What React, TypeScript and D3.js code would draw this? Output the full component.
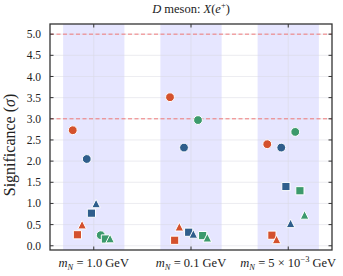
import React, { useRef, useEffect } from 'react';
import * as d3 from 'd3';

// categories (mass points) and their axis labels
const categories = ['1.0', '0.1', '5e-3'];

// y-axis ticks
const yTicks = [0, 0.5, 1, 1.5, 2, 2.5, 3, 3.5, 4, 4.5, 5];
const thresholds = [3, 5];

// significance per series, one value per category
const redCircle = [2.73, 3.51, 2.40];
const redSquare = [0.26, 0.13, 0.25];
const redTriangle = [0.50, 0.45, 0.15];
const blueCircle = [2.05, 2.32, 2.32];
const blueSquare = [0.77, 0.32, 1.40];
const blueTriangle = [1.00, 0.28, 0.53];
const greenCircle = [0.25, 2.97, 2.69];
const greenSquare = [0.16, 0.24, 1.30];
const greenTriangle = [0.17, 0.19, 0.73];

const RED = '#d4512d';
const BLUE = '#2f5e8c';
const GREEN = '#3c9a6c';

type Shape = 'circle' | 'square' | 'triangle';

const series: { values: number[]; color: string; shape: Shape }[] = [
  { values: redCircle, color: RED, shape: 'circle' },
  { values: redSquare, color: RED, shape: 'square' },
  { values: redTriangle, color: RED, shape: 'triangle' },
  { values: blueCircle, color: BLUE, shape: 'circle' },
  { values: blueSquare, color: BLUE, shape: 'square' },
  { values: blueTriangle, color: BLUE, shape: 'triangle' },
  { values: greenCircle, color: GREEN, shape: 'circle' },
  { values: greenSquare, color: GREEN, shape: 'square' },
  { values: greenTriangle, color: GREEN, shape: 'triangle' },
];

const WIDTH = 343;
const HEIGHT = 276;
const FONT = '"Liberation Serif", "DejaVu Serif", serif';

const shapePath = (shape: Shape) => {
  if (shape === 'circle') {
    return d3.symbol().type(d3.symbolCircle).size(Math.PI * 4.4 * 4.4)();
  }
  if (shape === 'square') {
    const s = 4.1;
    return `M${-s},${-s}L${s},${-s}L${s},${s}L${-s},${s}Z`;
  }
  const t = 4.3;
  return `M0,${-t}L${t},${t}L${-t},${t}Z`;
};

const App: React.FC = () => {
  const svgRef = useRef<SVGSVGElement>(null);

  useEffect(() => {
    if (!svgRef.current) return;
    const svg = d3.select(svgRef.current);
    svg.selectAll('*').remove();

    const margin = { top: 24, right: 11, bottom: 26, left: 50 };
    const x0 = margin.left;
    const x1 = WIDTH - margin.right;
    const y0 = margin.top;
    const y1 = HEIGHT - margin.bottom;

    const x = d3.scaleLinear().domain([-0.45, 2.45]).range([x0, x1]);
    const y = d3.scaleLinear().domain([-0.1, 5.24]).range([y1, y0]);

    // shaded bands behind each mass point
    svg.append('g')
      .selectAll('rect')
      .data(categories)
      .enter()
      .append('rect')
      .attr('x', (_, i) => x(i - 0.315))
      .attr('y', y0)
      .attr('width', x(0.315) - x(-0.315))
      .attr('height', y1 - y0)
      .attr('fill', '#e6e6ff');

    // grid
    const grid = svg.append('g').attr('stroke', '#d8d8e0').attr('stroke-width', 0.6).attr('opacity', 0.8);
    grid.selectAll('.hg')
      .data(yTicks)
      .enter()
      .append('line')
      .attr('x1', x0).attr('x2', x1)
      .attr('y1', d => y(d)).attr('y2', d => y(d));
    grid.selectAll('.vg')
      .data(categories)
      .enter()
      .append('line')
      .attr('x1', (_, i) => x(i)).attr('x2', (_, i) => x(i))
      .attr('y1', y0).attr('y2', y1);

    // 3 and 5 sigma reference lines
    svg.append('g')
      .selectAll('line')
      .data(thresholds)
      .enter()
      .append('line')
      .attr('x1', x0).attr('x2', x1)
      .attr('y1', d => y(d)).attr('y2', d => y(d))
      .attr('stroke', '#f07a7a')
      .attr('stroke-width', 1)
      .attr('stroke-dasharray', '4,2.5');

    // markers
    const points = series.flatMap((s, si) =>
      s.values.map((v, ci) => ({ x: ci + (si - 4.5) * 0.048, y: v, color: s.color, shape: s.shape }))
    );
    svg.append('g')
      .selectAll('path')
      .data(points)
      .enter()
      .append('path')
      .attr('transform', d => `translate(${x(d.x)},${y(d.y)})`)
      .attr('d', d => shapePath(d.shape))
      .attr('fill', d => d.color)
      .attr('stroke', 'white')
      .attr('stroke-width', 1);

    // frame and inward ticks
    const axis = svg.append('g').attr('stroke', '#333').attr('stroke-width', 1);
    axis.selectAll('.yt')
      .data(yTicks)
      .enter()
      .append('path')
      .attr('d', d => `M${x0},${y(d)}h3.5M${x1},${y(d)}h-3.5`);
    axis.selectAll('.xt')
      .data(categories)
      .enter()
      .append('path')
      .attr('d', (_, i) => `M${x(i)},${y1}v-3.5M${x(i)},${y0}v3.5`);
    axis.append('rect')
      .attr('x', x0).attr('y', y0)
      .attr('width', x1 - x0).attr('height', y1 - y0)
      .attr('fill', 'none')
      .attr('stroke-width', 1.3);

    // y tick labels
    svg.append('g')
      .selectAll('text')
      .data(yTicks)
      .enter()
      .append('text')
      .attr('x', x0 - 9)
      .attr('y', d => y(d))
      .attr('dy', '0.35em')
      .attr('text-anchor', 'end')
      .style('font-family', FONT)
      .style('font-size', '11.5px')
      .style('fill', '#222')
      .text(d => d3.format('.1f')(d));

    // x tick labels
    const xl = svg.append('g')
      .selectAll('text')
      .data(categories)
      .enter()
      .append('text')
      .attr('x', (_, i) => x(i))
      .attr('y', HEIGHT - 9)
      .attr('text-anchor', 'middle')
      .style('font-family', FONT)
      .style('font-size', '12.5px')
      .style('fill', '#222');
    xl.each(function (d) {
      const t = d3.select(this);
      t.append('tspan').style('font-style', 'italic').text('m');
      t.append('tspan').style('font-style', 'italic').style('font-size', '8.5px').attr('dy', 2.5).text('N');
      t.append('tspan').attr('dy', -2.5).text(' = ');
      if (d === '5e-3') {
        t.append('tspan').text('5 × 10');
        t.append('tspan').style('font-size', '8.5px').attr('dy', -5).text('−3');
        t.append('tspan').attr('dy', 5).text(' GeV');
      } else {
        t.append('tspan').text(`${d} GeV`);
      }
    });

    // y label
    const yl = svg.append('text')
      .attr('transform', `translate(15,${(y0 + y1) / 2 + 8}) rotate(-90)`)
      .attr('text-anchor', 'middle')
      .style('font-family', FONT)
      .style('font-size', '16px')
      .style('fill', '#222');
    yl.append('tspan').text('Significance (');
    yl.append('tspan').style('font-style', 'italic').text('σ');
    yl.append('tspan').text(')');

    // title
    const title = svg.append('text')
      .attr('x', (x0 + x1) / 2)
      .attr('y', 13)
      .attr('text-anchor', 'middle')
      .style('font-family', FONT)
      .style('font-size', '12.5px')
      .style('fill', '#222');
    title.append('tspan').style('font-style', 'italic').text('D');
    title.append('tspan').text(' meson: ');
    title.append('tspan').style('font-style', 'italic').text('X');
    title.append('tspan').text('(');
    title.append('tspan').style('font-style', 'italic').text('e');
    title.append('tspan').style('font-size', '8.5px').attr('dy', -5).text('+');
    title.append('tspan').attr('dy', 5).text(')');
  }, []);

  return (
    <svg
      ref={svgRef}
      width={WIDTH}
      height={HEIGHT}
      style={{ position: 'absolute', left: 0, top: 0, background: 'white' }}
      viewBox={`0 0 ${WIDTH} ${HEIGHT}`}
    />
  );
};

export default App;
